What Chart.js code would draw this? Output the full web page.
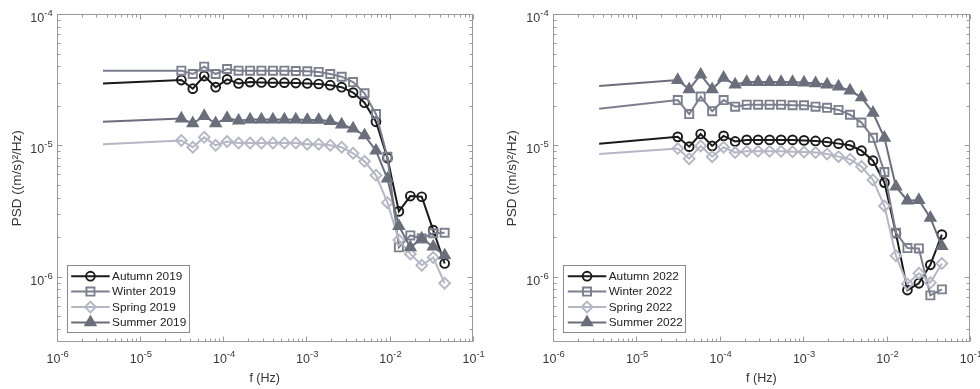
<!DOCTYPE html>
<html><head><meta charset="utf-8">
<script src="https://cdn.jsdelivr.net/npm/chart.js@4.4.1/dist/chart.umd.min.js"></script>
<style>
html,body{margin:0;padding:0;background:#fff;overflow:hidden;width:980px;height:389px;}
.wrap{position:absolute;top:0;width:490px;height:389px;}
</style></head><body>
<div class="wrap" style="left:0"><canvas id="c1" width="490" height="389"></canvas></div>
<div class="wrap" style="left:490px"><canvas id="c2" width="490" height="389"></canvas></div>
<script>
// ---------- data ----------
const freq = [3.6e-6, 3.15e-5, 4.32e-5, 5.93e-5, 8.14e-5, 1.117e-4, 1.535e-4, 2.11e-4, 2.89e-4, 3.97e-4,
  5.45e-4, 7.48e-4, 1.027e-3, 1.41e-3, 1.94e-3, 2.66e-3, 3.65e-3, 5.01e-3, 6.88e-3, 9.44e-3,
  1.296e-2, 1.78e-2, 2.44e-2, 3.35e-2, 4.60e-2];

const autumn2019 = [2.96e-5, 3.14e-5, 2.70e-5, 3.37e-5, 2.77e-5, 3.18e-5, 2.96e-5, 3.03e-5, 3.01e-5, 3.0e-5,
  3.0e-5, 2.98e-5, 2.96e-5, 2.93e-5, 2.87e-5, 2.77e-5, 2.52e-5, 2.11e-5, 1.51e-5, 8.0e-6,
  3.14e-6, 4.11e-6, 4.06e-6, 2.26e-6, 1.26e-6];
const winter2019 = [3.7e-5, 3.7e-5, 3.49e-5, 3.97e-5, 3.49e-5, 3.81e-5, 3.7e-5, 3.7e-5, 3.7e-5, 3.7e-5,
  3.7e-5, 3.68e-5, 3.66e-5, 3.62e-5, 3.49e-5, 3.33e-5, 3.03e-5, 2.49e-5, 1.73e-5, 8.2e-6,
  1.67e-6, 2.06e-6, 1.95e-6, 2.14e-6, 2.16e-6];
const spring2019 = [1.02e-5, 1.09e-5, 9.66e-6, 1.15e-5, 1.0e-5, 1.07e-5, 1.04e-5, 1.04e-5, 1.04e-5, 1.04e-5,
  1.04e-5, 1.04e-5, 1.02e-5, 1.02e-5, 1.0e-5, 9.66e-6, 8.7e-6, 7.55e-6, 5.91e-6, 3.66e-6,
  1.9e-6, 1.49e-6, 1.22e-6, 1.40e-6, 8.9e-7];
const summer2019 = [1.51e-5, 1.60e-5, 1.47e-5, 1.67e-5, 1.47e-5, 1.61e-5, 1.54e-5, 1.57e-5, 1.57e-5, 1.57e-5,
  1.57e-5, 1.57e-5, 1.56e-5, 1.56e-5, 1.53e-5, 1.44e-5, 1.34e-5, 1.19e-5, 9.1e-6, 5.57e-6,
  2.43e-6, 1.67e-6, 1.95e-6, 1.69e-6, 1.45e-6];

const autumn2022 = [1.03e-5, 1.16e-5, 9.77e-6, 1.22e-5, 9.89e-6, 1.18e-5, 1.07e-5, 1.10e-5, 1.10e-5, 1.10e-5,
  1.10e-5, 1.10e-5, 1.09e-5, 1.08e-5, 1.06e-5, 1.03e-5, 1.0e-5, 9.1e-6, 7.64e-6, 5.2e-6,
  2.14e-6, 7.9e-7, 8.9e-7, 1.23e-6, 2.09e-6];
const winter2022 = [1.9e-5, 2.21e-5, 1.73e-5, 2.35e-5, 1.82e-5, 2.21e-5, 1.97e-5, 2.04e-5, 2.04e-5, 2.04e-5,
  2.04e-5, 2.02e-5, 2.02e-5, 1.97e-5, 1.93e-5, 1.86e-5, 1.71e-5, 1.49e-5, 1.14e-5, 6.26e-6,
  2.16e-6, 1.65e-6, 1.64e-6, 7.2e-7, 8.0e-7];
const spring2022 = [8.59e-6, 9.44e-6, 7.91e-6, 9.89e-6, 8.2e-6, 9.66e-6, 8.8e-6, 9.0e-6, 9.0e-6, 9.0e-6,
  9.0e-6, 8.95e-6, 8.9e-6, 8.8e-6, 8.6e-6, 8.2e-6, 7.82e-6, 6.89e-6, 5.45e-6, 3.45e-6,
  1.44e-6, 8.8e-7, 1.06e-6, 9.0e-7, 1.26e-6];
const summer2022 = [2.83e-5, 3.14e-5, 2.67e-5, 3.45e-5, 2.67e-5, 3.26e-5, 2.9e-5, 3.03e-5, 3.03e-5, 3.03e-5,
  3.03e-5, 3.03e-5, 3.0e-5, 2.97e-5, 2.9e-5, 2.8e-5, 2.61e-5, 2.32e-5, 1.77e-5, 1.14e-5,
  4.84e-6, 3.79e-6, 3.83e-6, 2.8e-6, 1.71e-6];

const names2019 = ['Autumn 2019', 'Winter 2019', 'Spring 2019', 'Summer 2019'];
const names2022 = ['Autumn 2022', 'Winter 2022', 'Spring 2022', 'Summer 2022'];

// tick labels: base and superscript exponent
const xTickValues = [1e-6, 1e-5, 1e-4, 1e-3, 1e-2, 1e-1];
const xTickLabels = [['10', '-6'], ['10', '-5'], ['10', '-4'], ['10', '-3'], ['10', '-2'], ['10', '-1']];
const yTickValues = [1e-6, 1e-5, 1e-4];
const yTickLabels = [['10', '-6'], ['10', '-5'], ['10', '-4']];
const xTitle = 'f (Hz)';
const yTitle = 'PSD ((m/s)\u00B2/Hz)';

// ---------- styles ----------
const FONT = '"Liberation Sans", Arial, Helvetica, sans-serif';
const seriesStyles = [
  {color: '#1a1a1a', pointStyle: 'circle', r: 4.4, filled: false},
  {color: '#7c7f8d', pointStyle: 'rect', r: 5.7, filled: false},
  {color: '#b6b6c4', pointStyle: 'rectRot', r: 5.4, filled: false},
  {color: '#6b6e7b', pointStyle: 'triangle', r: 5.9, filled: true}
];

function drawMarker(ctx, st, x, y) {
  const r = st.r;
  ctx.beginPath();
  if (st.pointStyle === 'circle') ctx.arc(x, y, r, 0, Math.PI * 2);
  else if (st.pointStyle === 'rect') { const s = r * Math.SQRT1_2; ctx.rect(x - s, y - s, 2 * s, 2 * s); }
  else if (st.pointStyle === 'rectRot') { ctx.moveTo(x - r, y); ctx.lineTo(x, y - r); ctx.lineTo(x + r, y); ctx.lineTo(x, y + r); ctx.closePath(); }
  else { ctx.moveTo(x, y - r); ctx.lineTo(x + 0.866 * r, y + 0.5 * r); ctx.lineTo(x - 0.866 * r, y + 0.5 * r); ctx.closePath(); }
  if (st.filled) { ctx.fillStyle = st.color; ctx.fill(); }
  ctx.strokeStyle = st.color; ctx.lineWidth = 1.9; ctx.stroke();
}

const BASE_FONT = '12.5px ' + FONT;
const EXP_FONT = '9.5px ' + FONT;

const framePlugin = {
  id: 'frame',
  afterDatasetsDraw(chart) {
    const {ctx, chartArea: a, scales: {x, y}} = chart;
    ctx.save();
    ctx.strokeStyle = '#9a9a9a';
    ctx.lineWidth = 1;
    const L = Math.round(a.left) + 0.5, R = Math.round(a.right) - 0.5, T = Math.round(a.top) + 0.5, B = Math.round(a.bottom) - 0.5;
    ctx.strokeRect(L, T, R - L, B - T);
    ctx.beginPath();
    for (let e = -7; e <= -1; e++) {
      for (let k = 1; k <= 9; k++) {
        const v = k * Math.pow(10, e);
        const len = k === 1 ? 5 : 3;
        if (v >= x.min * 0.9999 && v <= x.max * 1.0001) {
          const px = Math.round(x.getPixelForValue(v)) + 0.5;
          ctx.moveTo(px, B); ctx.lineTo(px, B - len);
          ctx.moveTo(px, T); ctx.lineTo(px, T + len);
        }
        if (v >= y.min * 0.9999 && v <= y.max * 1.0001) {
          const py = Math.round(y.getPixelForValue(v)) + 0.5;
          ctx.moveTo(L, py); ctx.lineTo(L + len, py);
          ctx.moveTo(R, py); ctx.lineTo(R - len, py);
        }
      }
    }
    ctx.stroke();

    // tick labels with superscript exponents, placed by the scales
    ctx.fillStyle = '#3a3a3a';
    ctx.textBaseline = 'alphabetic';
    ctx.textAlign = 'left';
    x.ticks.forEach((t, i) => {
      const [b, ex] = xTickLabels[i];
      const px = x.getPixelForValue(t.value);
      ctx.font = BASE_FONT; const wb = ctx.measureText(b).width;
      ctx.font = EXP_FONT; const we = ctx.measureText(ex).width;
      const x0 = px - (wb + we) / 2 + 1;
      ctx.font = BASE_FONT; ctx.fillText(b, x0, a.bottom + 21);
      ctx.font = EXP_FONT; ctx.fillText(ex, x0 + wb, a.bottom + 14.5);
    });
    y.ticks.forEach((t, i) => {
      const [b, ex] = yTickLabels[i];
      const py = y.getPixelForValue(t.value);
      ctx.font = EXP_FONT; const we = ctx.measureText(ex).width;
      ctx.font = BASE_FONT; const wb = ctx.measureText(b).width;
      const right = a.left - 4;
      ctx.font = BASE_FONT; ctx.fillText(b, right - we - wb, py + 8);
      ctx.font = EXP_FONT; ctx.fillText(ex, right - we, py + 2);
    });
    ctx.restore();
  },
  afterDraw(chart, args, opts) {
    const {ctx, chartArea: a} = chart;
    const names = opts.names;
    const w = 121.6, h = 67.3;
    const bx = a.left + opts.dx, by = a.bottom - 10 - h;
    ctx.save();
    ctx.fillStyle = '#ffffff';
    ctx.fillRect(bx, by, w, h);
    ctx.strokeStyle = '#8a8a8a';
    ctx.lineWidth = 1;
    ctx.strokeRect(Math.round(bx) + 0.5, Math.round(by) + 0.5, Math.round(w), Math.round(h));
    names.forEach((nm, i) => {
      const st = seriesStyles[i];
      const yy = by + 11.2 + i * 15.4;
      const x0 = bx + 4.5, x1 = bx + 43;
      ctx.strokeStyle = st.color; ctx.lineWidth = 2;
      ctx.beginPath(); ctx.moveTo(x0, yy); ctx.lineTo(x1, yy); ctx.stroke();
      drawMarker(ctx, st, (x0 + x1) / 2, yy);
      ctx.fillStyle = '#222';
      ctx.font = '11.8px ' + FONT;
      ctx.textBaseline = 'middle';
      ctx.textAlign = 'left';
      ctx.fillText(nm, bx + 45.4, yy + 0.5);
    });
    ctx.restore();
  }
};

function makeChart(id, seriesList, names, g) {
  const datasets = seriesList.map((vals, i) => {
    const st = seriesStyles[i];
    return {
      label: names[i],
      data: freq.map((f, j) => ({x: f, y: vals[j]})),
      borderColor: st.color,
      borderWidth: 2,
      pointStyle: st.pointStyle,
      pointRadius: c => c.dataIndex === 0 ? 0 : st.r,
      pointBorderWidth: 1.9,
      pointBorderColor: st.color,
      pointBackgroundColor: st.filled ? st.color : 'rgba(0,0,0,0)',
      tension: 0,
      order: 3 - i
    };
  });
  return new Chart(document.getElementById(id), {
    type: 'line',
    data: {datasets},
    options: {
      responsive: false,
      animation: false,
      events: [],
      layout: {padding: {left: 0, top: 14, right: g.padRight, bottom: 0}},
      plugins: {legend: {display: false}, tooltip: {enabled: false}, frame: {names, dx: g.legendDx}},
      scales: {
        x: {
          type: 'logarithmic', min: 1e-6, max: 1e-1,
          grid: {display: false},
          border: {display: false},
          afterBuildTicks: s => { s.ticks = xTickValues.map(v => ({value: v})); },
          afterFit: s => { s.height = 46.7; s.paddingLeft = 0; s.paddingRight = 0; },
          ticks: {display: false, autoSkip: false, maxRotation: 0},
          title: {display: true, text: xTitle, color: '#333', font: {family: FONT, size: 12.5}, padding: {top: 0, bottom: 3}}
        },
        y: {
          type: 'logarithmic', min: 3.1623e-7, max: 1e-4,
          grid: {display: false},
          border: {display: false},
          afterBuildTicks: s => { s.ticks = yTickValues.map(v => ({value: v})); },
          afterFit: s => { s.width = g.yWidth; s.paddingTop = 0; s.paddingBottom = 0; },
          ticks: {display: false, autoSkip: false},
          title: {display: true, text: yTitle, color: '#333', font: {family: FONT, size: 13.5}, padding: {top: g.yTitlePad, bottom: 0}}
        }
      }
    },
    plugins: [framePlugin]
  });
}

makeChart('c1', [autumn2019, winter2019, spring2019, summer2019], names2019,
  {yWidth: 56.7, padRight: 17.3, yTitlePad: 9, legendDx: 10});
makeChart('c2', [autumn2022, winter2022, spring2022, summer2022], names2022,
  {yWidth: 62.7, padRight: 10, yTitlePad: 14, legendDx: 10.6});
</script>
</body></html>
